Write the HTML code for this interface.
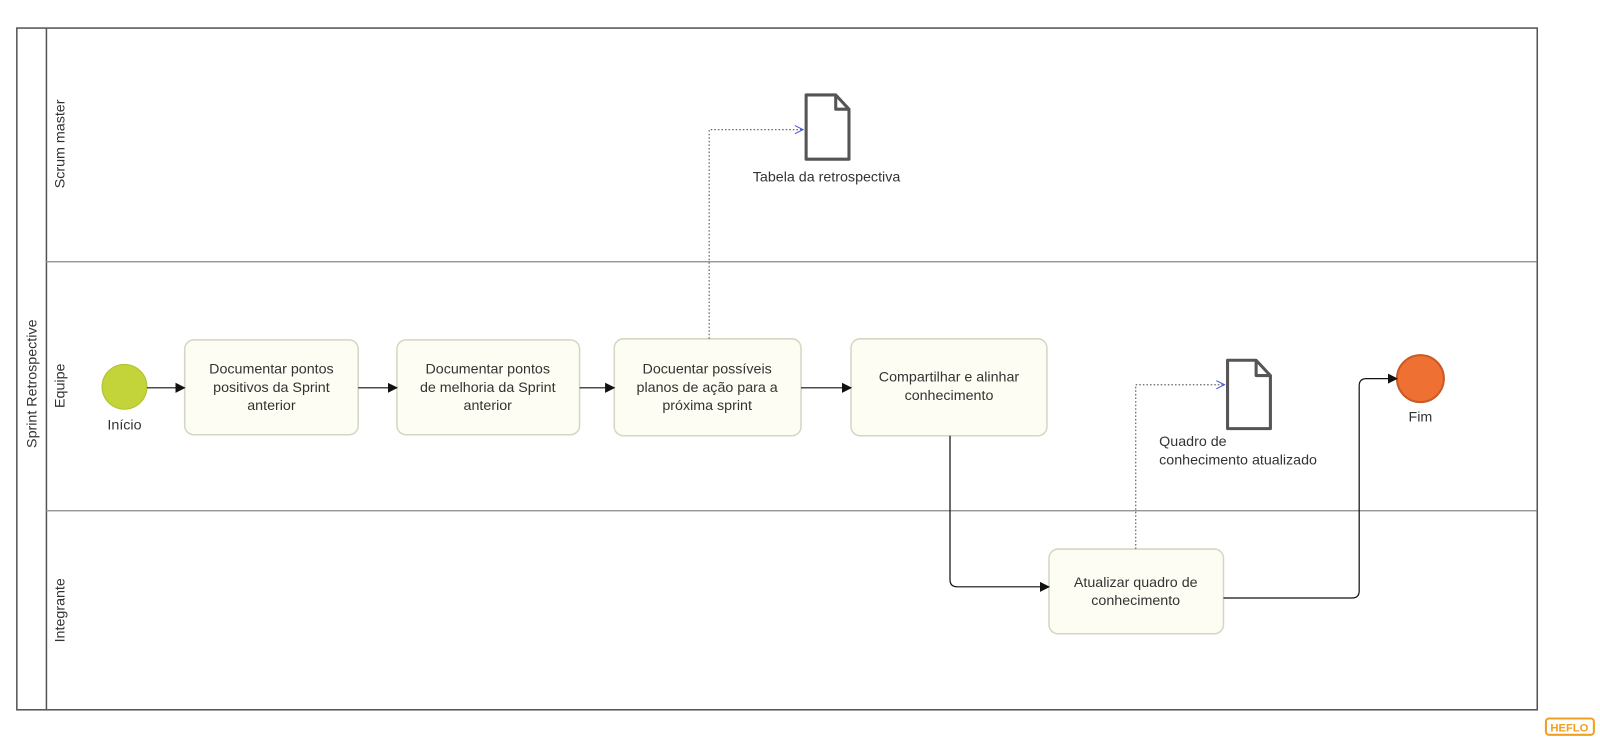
<!DOCTYPE html>
<html><head><meta charset="utf-8"><style>html,body{margin:0;padding:0;background:#fff}svg{display:block}text{font-family:"Liberation Sans",sans-serif;fill:#333}</style></head><body>
<svg width="1600" height="745" viewBox="0 0 1568 730" preserveAspectRatio="none" xmlns="http://www.w3.org/2000/svg">
<defs>
<marker id="a" markerWidth="10" markerHeight="10" refX="9" refY="5" orient="auto" markerUnits="userSpaceOnUse"><path d="M0,0 L10,5 L0,10 z" fill="#111"/></marker>
<marker id="o" markerWidth="10" markerHeight="10" refX="9" refY="5" orient="auto" markerUnits="userSpaceOnUse"><path d="M1,1 L9,5 L1,9" fill="none" stroke="#4455dd" stroke-width="1"/></marker>
</defs>
<rect x="16.5" y="27.5" width="1490" height="668" fill="#fff" stroke="#555" stroke-width="1.5"/>
<line x1="45.5" y1="27" x2="45.5" y2="695" stroke="#555" stroke-width="1.5"/>
<line x1="45" y1="256.5" x2="1506" y2="256.5" stroke="#888" stroke-width="1.2"/>
<line x1="45" y1="500.5" x2="1506" y2="500.5" stroke="#888" stroke-width="1.2"/>
<text transform="translate(36,376) rotate(-90)" text-anchor="middle" font-size="14">Sprint Retrospective</text>
<text transform="translate(63,141) rotate(-90)" text-anchor="middle" font-size="14">Scrum master</text>
<text transform="translate(63,378) rotate(-90)" text-anchor="middle" font-size="14">Equipe</text>
<text transform="translate(63,598) rotate(-90)" text-anchor="middle" font-size="14">Integrante</text>

<circle cx="122" cy="379" r="22" fill="#c3d43a" stroke="#b0c030" stroke-width="1"/>
<text x="122" y="421" text-anchor="middle" font-size="14">Início</text>
<circle cx="1392" cy="371" r="23" fill="#ee7033" stroke="#c95a25" stroke-width="2"/>
<text x="1392" y="413" text-anchor="middle" font-size="14">Fim</text>

<g fill="#fdfdf3" stroke="#d6d6c4" stroke-width="1.5">
<rect x="181" y="333" width="170" height="93" rx="9"/>
<rect x="389" y="333" width="179" height="93" rx="9"/>
<rect x="602" y="332" width="183" height="95" rx="9"/>
<rect x="834" y="332" width="192" height="95" rx="9"/>
<rect x="1028" y="538" width="171" height="83" rx="9"/>
</g>
<g font-size="14" text-anchor="middle">
<text x="266" y="366">Documentar pontos</text><text x="266" y="384">positivos da Sprint</text><text x="266" y="402">anterior</text>
<text x="478" y="366">Documentar pontos</text><text x="478" y="384">de melhoria da Sprint</text><text x="478" y="402">anterior</text>
<text x="693" y="366">Docuentar possíveis</text><text x="693" y="384">planos de ação para a</text><text x="693" y="402">próxima sprint</text>
<text x="930" y="374">Compartilhar e alinhar</text><text x="930" y="392">conhecimento</text>
<text x="1113" y="575">Atualizar quadro de</text><text x="1113" y="593">conhecimento</text>
</g>

<g stroke="#111" stroke-width="1.2" fill="none" marker-end="url(#a)">
<line x1="144" y1="380" x2="181" y2="380"/>
<line x1="351" y1="380" x2="389" y2="380"/>
<line x1="568" y1="380" x2="602" y2="380"/>
<line x1="785" y1="380" x2="834" y2="380"/>
<path d="M931,427 V568 Q931,575 938,575 H1028"/>
<path d="M1199,586 H1325 Q1332,586 1332,579 V378 Q1332,371 1339,371 H1369"/>
</g>
<g stroke="#666" stroke-width="1.2" fill="none" stroke-dasharray="1.5,2" marker-end="url(#o)">
<path d="M695,332 V127 H787"/>
<path d="M1113,538 V377 H1200"/>
</g>

<g fill="#fff" stroke="#555" stroke-width="3" stroke-linejoin="round">
<path d="M790,93 H819 L832,107 V156 H790 Z"/><path d="M819,93 V107 H832" fill="none"/>
<path d="M1203,353 H1231 L1245,368 V420 H1203 Z"/><path d="M1231,353 V368 H1245" fill="none"/>
</g>
<text x="810" y="178" text-anchor="middle" font-size="14">Tabela da retrospectiva</text>
<text x="1136" y="437" font-size="14">Quadro de</text>
<text x="1136" y="455" font-size="14">conhecimento atualizado</text>

<rect x="1515" y="704" width="47" height="16" rx="3" fill="#fff" stroke="#f0a020" stroke-width="2"/>
<text x="1538" y="717" text-anchor="middle" font-size="11" font-weight="bold" style="fill:#f0a020">HEFLO</text>
</svg>
</body></html>
